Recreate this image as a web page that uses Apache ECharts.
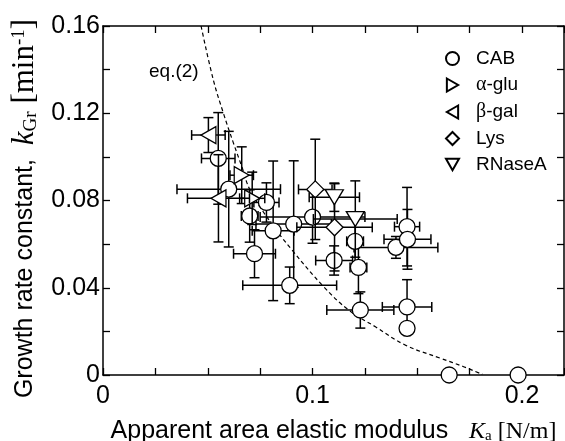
<!DOCTYPE html>
<html>
<head>
<meta charset="utf-8">
<script src="https://cdn.jsdelivr.net/npm/echarts@6/dist/echarts.min.js"></script>
<style>
  html, body { margin: 0; padding: 0; background: #fff; }
  #chart { width: 565px; height: 441px; }
</style>
</head>
<body>
<div id="chart"></div>
<script>
// Measured growth rate constants vs. apparent area elastic modulus.
// Each group: Ka [N/m], kGr [1/min], and the symmetric error of each.
const cabKa    = [0.0550, 0.0600, 0.0700, 0.0780, 0.0723, 0.0812, 0.0910, 0.0891, 0.1000, 0.1103, 0.1203, 0.1219, 0.1228, 0.1398, 0.1451, 0.1453, 0.1451, 0.1451, 0.1652, 0.1981];
const cabK     = [0.0993, 0.0852, 0.0729, 0.0791, 0.0556, 0.0661, 0.0692, 0.0411, 0.0724, 0.0525, 0.0613, 0.0493, 0.0298, 0.0585, 0.0680, 0.0622, 0.0312, 0.0214, 0.0000, 0.0000];
const cabKaErr = [0.0080, 0.0247, 0.0040, 0.0060, 0.0100, 0.0100, 0.0180, 0.0224, 0.0250, 0.0088, 0.0040, 0.0040, 0.0160, 0.0200, 0.0060, 0.0112, 0.0118, 0, 0, 0];
const cabKErr  = [0.0210, 0.0265, 0.0120, 0.0090, 0.0110, 0.0320, 0.0290, 0.0084, 0.0120, 0.0067, 0.0120, 0.0120, 0.0083, 0.0050, 0.0180, 0.0137, 0.0125, 0, 0, 0];

const gluKa    = [0.0662, 0.0712];
const gluK     = [0.0916, 0.0810];
const gluKaErr = [0.0056, 0.0060];
const gluKErr  = [0.0130, 0.0120];

const galKa    = [0.0503, 0.0551];
const galK     = [0.1100, 0.0810];
const galKaErr = [0.0080, 0.0148];
const galKErr  = [0.0080, 0.0200];

const lysKa    = [0.1013, 0.1105];
const lysK     = [0.0851, 0.0677];
const lysKaErr = [0.0080, 0.0180];
const lysKErr  = [0.0230, 0.0200];

const rnaKa    = [0.1104, 0.1204];
const rnaK     = [0.0815, 0.0715];
const rnaKaErr = [0.0120, 0.0200];
const rnaKErr  = [0.0065, 0.0175];

// Curve of eq.(2)
const eqKa = [0.0468, 0.0527, 0.0575, 0.0623, 0.0663, 0.0702, 0.0800, 0.0902, 0.1053, 0.1172, 0.1300, 0.1443, 0.1610, 0.1721, 0.1810];
const eqK  = [0.1600, 0.1351, 0.1199, 0.1062, 0.0954, 0.0848, 0.0700, 0.0573, 0.0405, 0.0298, 0.0221, 0.0137, 0.0077, 0.0038, 0.0003];

const xTickValues = [0, 0.1, 0.2];
const xTickLabels = ['0', '0.1', '0.2'];
const yTickValues = [0, 0.04, 0.08, 0.12, 0.16];
const yTickLabels = ['0', '0.04', '0.08', '0.12', '0.16'];

const SANS = '"Liberation Sans", Arial, Helvetica, sans-serif';
const SERIF = '"Liberation Serif", "Times New Roman", serif';
const INK = '#000';

// Outline triangles pointing right / left / down
const ICON_RIGHT = 'path://M0,0L13,7.5L0,15Z';
const ICON_LEFT = 'path://M13,0L0,7.5L13,15Z';
const ICON_DOWN = 'path://M0,0L15,0L7.5,13Z';

function tickFormatter(values, labels) {
  return function (v) {
    const i = values.findIndex(t => Math.abs(t - v) < 1e-9);
    return i >= 0 ? labels[i] : '';
  };
}

function zip(a, b, c, d) {
  return a.map((x, i) => [x, b[i], c ? c[i] : 0, d ? d[i] : 0]);
}

// Error bars with end caps, drawn through the chart's own coordinate system
function errorBars(id, ka, k, kaErr, kErr, z) {
  return {
    type: 'custom',
    id: id,
    name: id,
    silent: true,
    z: z,
    data: zip(ka, k, kaErr, kErr),
    encode: { x: 0, y: 1 },
    renderItem: function (params, api) {
      const x = api.value(0), y = api.value(1), ex = api.value(2), ey = api.value(3);
      const c = api.coord([x, y]);
      const cap = 5;
      const st = { stroke: INK, lineWidth: 1.5 };
      const seg = (x1, y1, x2, y2) => ({ type: 'line', shape: { x1, y1, x2, y2 }, style: st });
      const kids = [];
      if (ex > 0) {
        const l = api.coord([x - ex, y])[0], r = api.coord([x + ex, y])[0];
        kids.push(seg(l, c[1], r, c[1]), seg(l, c[1] - cap, l, c[1] + cap), seg(r, c[1] - cap, r, c[1] + cap));
      }
      if (ey > 0) {
        const t = api.coord([x, y + ey])[1], b = api.coord([x, y - ey])[1];
        kids.push(seg(c[0], t, c[0], b), seg(c[0] - cap, t, c[0] + cap, t), seg(c[0] - cap, b, c[0] + cap, b));
      }
      return { type: 'group', children: kids };
    }
  };
}

function markers(name, ka, k, symbol, size, rotate, z) {
  return {
    type: 'scatter',
    name: name,
    z: z,
    symbol: symbol,
    symbolSize: size,
    symbolRotate: rotate || 0,
    itemStyle: { color: '#fff', borderColor: INK, borderWidth: 1.3, opacity: 1 },
    emphasis: { disabled: true },
    data: ka.map((x, i) => [x, k[i]])
  };
}

const chart = echarts.init(document.getElementById('chart'), null, { renderer: 'canvas' });

const axisLineStyle = { color: INK, width: 1.5 };
const tickStyle = { color: INK, width: 1.3 };

chart.setOption({
  animation: false,
  backgroundColor: '#fff',
  grid: { left: 103, right: 1, top: 26, bottom: 66, containLabel: false, outerBoundsMode: 'none' },
  xAxis: [{
    type: 'value', min: 0, max: 0.22, interval: 0.025, position: 'bottom',
    axisLine: { onZero: false, lineStyle: axisLineStyle },
    axisTick: { inside: true, length: 7, lineStyle: tickStyle },
    splitLine: { show: false },
    axisLabel: { formatter: tickFormatter(xTickValues, xTickLabels), color: INK, fontSize: 25, fontFamily: SANS, margin: 9 },
    name: '{a|Apparent area elastic modulus}{s|   }{i|K}{sub|a}{t| [N/m]}',
    nameLocation: 'middle',
    nameGap: 44,
    nameTextStyle: {
      color: INK,
      rich: {
        a: { fontFamily: SANS, fontSize: 25, color: INK },
        s: { fontFamily: SANS, fontSize: 25 },
        i: { fontFamily: SERIF, fontStyle: 'italic', fontSize: 24, color: INK },
        sub: { fontFamily: SERIF, fontSize: 15, color: INK, verticalAlign: 'bottom' },
        t: { fontFamily: SERIF, fontSize: 24, color: INK }
      }
    }
  }, {
    type: 'value', min: 0, max: 0.22, interval: 0.025, position: 'top',
    axisLine: { onZero: false, lineStyle: axisLineStyle },
    axisTick: { inside: true, length: 7, lineStyle: tickStyle },
    splitLine: { show: false },
    axisLabel: { show: false }
  }],
  yAxis: [{
    type: 'value', min: 0, max: 0.16, interval: 0.02, position: 'left',
    axisLine: { onZero: false, lineStyle: axisLineStyle },
    axisTick: { inside: true, length: 7, lineStyle: tickStyle },
    splitLine: { show: false },
    axisLabel: { formatter: tickFormatter(yTickValues, yTickLabels), color: INK, fontSize: 25, fontFamily: SANS, margin: 3 },
    name: '{a|Growth rate constant,}{s|  }{i|k}{sub|Gr}{t| [min}{sup|-1}{e|]}',
    nameLocation: 'middle',
    nameGap: 60,
    nameTextStyle: {
      color: INK,
      rich: {
        a: { fontFamily: SANS, fontSize: 25, color: INK },
        s: { fontFamily: SANS, fontSize: 25 },
        i: { fontFamily: SERIF, fontStyle: 'italic', fontSize: 31, color: INK },
        sub: { fontFamily: SERIF, fontSize: 19, color: INK, verticalAlign: 'bottom' },
        t: { fontFamily: SERIF, fontSize: 31, color: INK },
        sup: { fontFamily: SERIF, fontSize: 19, color: INK, verticalAlign: 'top' },
        e: { fontFamily: SERIF, fontSize: 31, color: INK, padding: [0, 16, 0, 0] }
      }
    }
  }, {
    type: 'value', min: 0, max: 0.16, interval: 0.02, position: 'right',
    axisLine: { onZero: false, lineStyle: axisLineStyle },
    axisTick: { inside: true, length: 7, lineStyle: tickStyle },
    splitLine: { show: false },
    axisLabel: { show: false }
  }],
  legend: {
    orient: 'vertical',
    left: 440,
    top: 44,
    itemWidth: 13,
    itemHeight: 13,
    itemGap: 7,
    selectedMode: false,
    data: [
      { name: 'CAB', icon: 'circle' },
      { name: 'α-glu', icon: ICON_RIGHT },
      { name: 'β-gal', icon: ICON_LEFT },
      { name: 'Lys', icon: 'diamond' },
      { name: 'RNaseA', icon: ICON_DOWN }
    ],
    formatter: function (name) {
      return '{p| }' + name.replace(/^([αβ])/, '{g|$1}');
    },
    textStyle: {
      color: INK, fontSize: 19, fontFamily: SANS,
      rich: {
        p: { width: 12, fontSize: 19 },
        g: { fontFamily: SERIF, fontSize: 20, color: INK }
      }
    }
  },
  graphic: [{
    type: 'text',
    left: 149,
    top: 62,
    style: { text: 'eq.(2)', font: '19px ' + SANS, fill: INK }
  }],
  series: [
    {
      type: 'line', name: 'eq.(2)', z: 1, silent: true,
      data: eqKa.map((x, i) => [x, eqK[i]]),
      smooth: 0.4, showSymbol: false, symbol: 'none',
      lineStyle: { color: INK, width: 1.2, type: [4, 3] }
    },
    // each group draws its bars and then its symbols, one group over the other
    errorBars('cab-err', cabKa, cabK, cabKaErr, cabKErr, 2),
    markers('CAB', cabKa, cabK, 'circle', 16, 0, 3),
    errorBars('glu-err', gluKa, gluK, gluKaErr, gluKErr, 4),
    markers('α-glu', gluKa, gluK, 'triangle', [17, 15], -90, 5),
    errorBars('gal-err', galKa, galK, galKaErr, galKErr, 6),
    markers('β-gal', galKa, galK, 'triangle', [17, 15], 90, 7),
    errorBars('lys-err', lysKa, lysK, lysKaErr, lysKErr, 8),
    markers('Lys', lysKa, lysK, 'diamond', [17, 17], 0, 9),
    errorBars('rna-err', rnaKa, rnaK, rnaKaErr, rnaKErr, 10),
    markers('RNaseA', rnaKa, rnaK, 'triangle', [18, 15], 180, 11)
  ]
});
</script>
</body>
</html>
